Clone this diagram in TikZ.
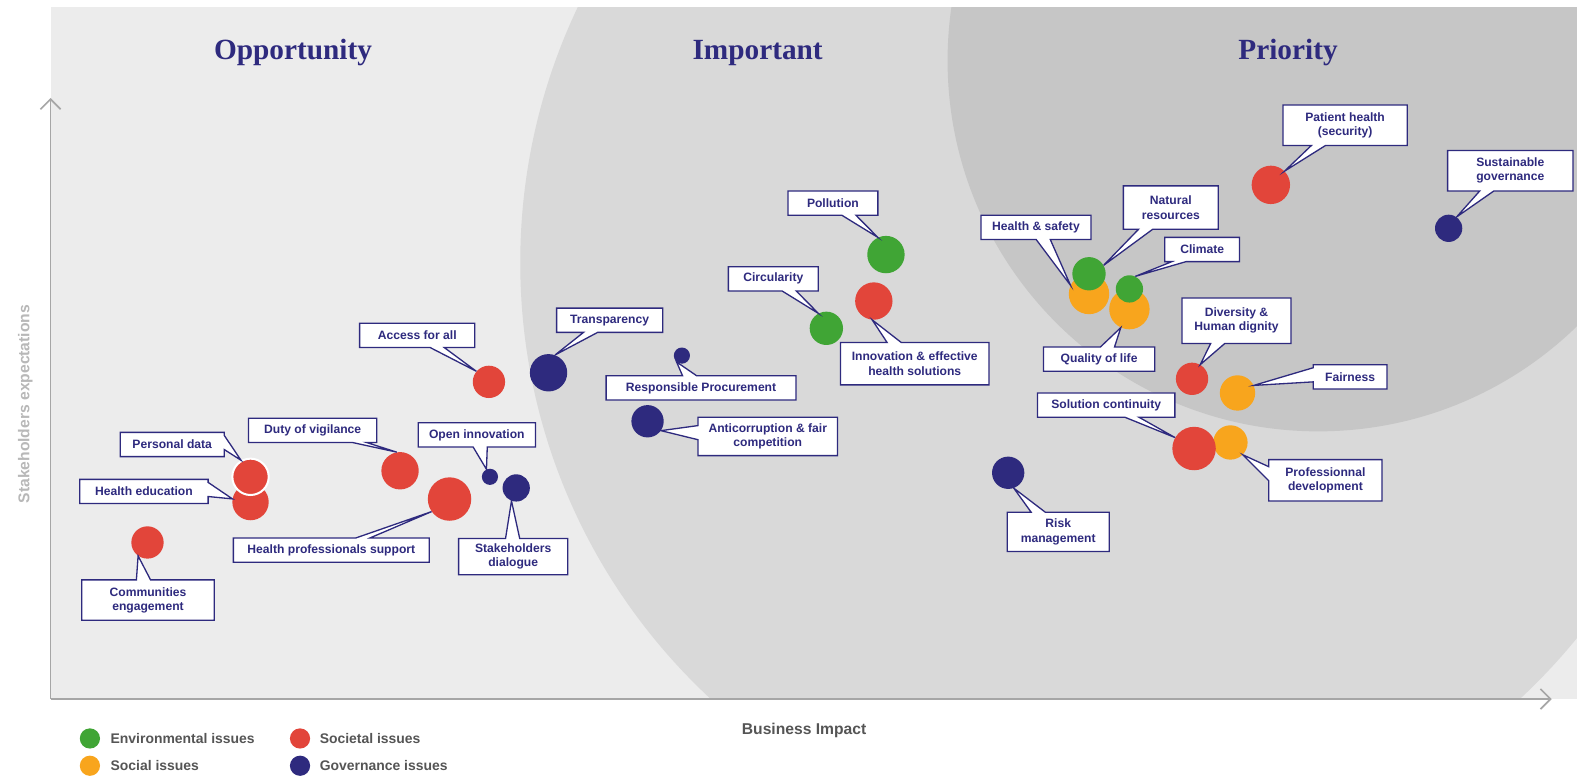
\documentclass[tikz,border=0pt]{standalone}
\usepackage{fontspec}
\setmainfont{Liberation Sans}
\newfontfamily\headfont{Liberation Serif}
\usetikzlibrary{shapes.callouts,arrows.meta}

\definecolor{navy}{HTML}{2E2A7E}
\definecolor{envgreen}{HTML}{40A535}
\definecolor{socred}{HTML}{E2453A}
\definecolor{socorange}{HTML}{F8A51D}
\definecolor{bglight}{HTML}{ECECEC}
\definecolor{bgmid}{HTML}{D9D9D9}
\definecolor{bgdark}{HTML}{C6C6C6}
\definecolor{axisgray}{HTML}{A6A6A6}
\definecolor{legendgray}{HTML}{555555}
\definecolor{ylabelgray}{HTML}{B8B8B8}

\tikzset{
  dot/.style={circle, inner sep=0pt, minimum size=#1},
  dotenv/.style={dot=#1, fill=envgreen},
  dotsoc/.style={dot=#1, fill=socred},
  dotsocial/.style={dot=#1, fill=socorange},
  dotgov/.style={dot=#1, fill=navy},
  callbox/.style={rectangle callout, draw=navy, line width=1.3pt, fill=white,
    text=navy, font=\bfseries\fontsize{12}{14}\selectfont, align=center,
    inner sep=0pt, minimum height=24pt, callout pointer width=14pt},
  zonetitle/.style={text=navy, font=\headfont\bfseries\fontsize{29}{34}\selectfont},
  legendtext/.style={anchor=west, text=legendgray, font=\bfseries\fontsize{13.8}{16}\selectfont},
  axisline/.style={axisgray, line width=1.6pt, -{Straight Barb[length=10pt,width=20pt]}}
}

\begin{document}
\begin{tikzpicture}[x=1pt,y=-1pt]
\useasboundingbox (0,0) rectangle (1568,768);
\fill[white] (0,0) rectangle (1568,768);

% zones
\fill[bglight] (50,7) rectangle (1561,692);
\begin{scope}
\clip (50,7) rectangle (1561,692);
\fill[bgmid] (1104,260) circle[radius=589pt];
\fill[bgdark] (1305,60) circle[radius=367pt];
\end{scope}

\node[zonetitle] (opportunity) at (290,52) {Opportunity};
\node[zonetitle] (important) at (750,52) {Important};
\node[zonetitle] (priority) at (1275,52) {Priority};

% axes
\coordinate (origin) at (50,692);
\coordinate (ytop) at (50,97);
\coordinate (xend) at (1536,692);
\draw[axisline] (origin) -- (ytop);
\draw[axisline] (origin) -- (xend);
\node[text=ylabelgray, rotate=90, font=\bfseries\fontsize{15.5}{18}\selectfont] (ylabel) at (25,400) {Stakeholders expectations};
\node[text=legendgray, font=\bfseries\fontsize{15.5}{18}\selectfont] (xlabel) at (796,723) {Business Impact};

% issues
\node[dotsoc=32pt] (commun) at (146,537) {};
\node[dotsoc=36pt] (healthedu) at (248,497) {};
\node[dotsoc=36pt, draw=white, line width=2pt] (personal) at (248,472) {};
\node[dotsoc=37pt] (duty) at (396,466) {};
\node[dotsoc=43pt] (hprof) at (445,494) {};
\node[dotgov=16pt] (openinno) at (485,472) {};
\node[dotgov=27pt] (stakedial) at (511,483) {};
\node[dotsoc=32pt] (access) at (484,378) {};
\node[dotgov=37pt] (transp) at (543,369) {};
\node[dotgov=16pt] (procure) at (675,352) {};
\node[dotgov=32pt] (anticorr) at (641,417) {};
\node[dotenv=33pt] (circ) at (818,325) {};
\node[dotenv=37pt] (pollution) at (877,252) {};
\node[dotsoc=37pt] (innov) at (865,298) {};
\node[dotsocial=40pt] (hsafety) at (1078,291) {};
\node[dotenv=33pt] (natres) at (1078,271) {};
\node[dotsocial=40pt] (quality) at (1118,306) {};
\node[dotenv=27pt] (climate) at (1118,286) {};
\node[dotsoc=32pt] (diversity) at (1180,375) {};
\node[dotsocial=35pt] (fairness) at (1225,389) {};
\node[dotsocial=34pt] (profdev) at (1218,438) {};
\node[dotsoc=43pt] (solcont) at (1182,444) {};
\node[dotgov=32pt] (risk) at (998,468) {};
\node[dotsoc=38pt] (patient) at (1258,183) {};
\node[dotgov=27pt] (sustgov) at (1434,226) {};

% labels
\node[callbox, minimum width=131pt, minimum height=40pt, callout absolute pointer={(commun.235)}] (communbox) at (146.5,594) {Communities\\engagement};
\node[callbox, minimum width=127pt, callout absolute pointer={(healthedu.170)}] (healtheduBox) at (142.5,486.5) {Health education};
\node[callbox, minimum width=103pt, callout absolute pointer={(personal.120)}] (personalbox) at (170.5,440) {Personal data};
\node[callbox, minimum width=127pt, callout absolute pointer={(duty.100)}] (dutybox) at (309.5,426) {Duty of vigilance};
\node[callbox, minimum width=194pt, callout absolute pointer={(hprof.215)}] (hprofbox) at (328,544.5) {Health professionals support};
\node[callbox, minimum width=116pt, callout absolute pointer={(openinno.115)}] (openinnobox) at (472,430.5) {Open innovation};
\node[callbox, minimum width=108pt, minimum height=36pt, callout absolute pointer={(stakedial.250)}] (stakedialbox) at (508,551) {Stakeholders\\dialogue};
\node[callbox, minimum width=114pt, callout absolute pointer={(access.140)}] (accessbox) at (413,332) {Access for all};
\node[callbox, minimum width=105pt, callout absolute pointer={(transp.70)}] (transpbox) at (603.5,317) {Transparency};
\node[callbox, minimum width=188pt, callout absolute pointer={(procure.230)}] (procurebox) at (694,384) {Responsible Procurement};
\node[callbox, minimum width=138pt, minimum height=38pt, callout absolute pointer={(anticorr.325)}] (anticorrbox) at (760,432) {Anticorruption \& fair\\competition};
\node[callbox, minimum width=89pt, callout absolute pointer={(circ.118)}] (circbox) at (765.5,276) {Circularity};
\node[callbox, minimum width=89pt, callout absolute pointer={(pollution.115)}] (pollutionbox) at (824.5,201) {Pollution};
\node[callbox, minimum width=147pt, minimum height=42pt, callout absolute pointer={(innov.265)}] (innovbox) at (905.5,360) {Innovation \& effective\\health solutions};
\node[callbox, minimum width=109pt, callout absolute pointer={(hsafety.155)}] (hsafetybox) at (1025.5,225) {Health \& safety};
\node[callbox, minimum width=94pt, minimum height=43pt, callout absolute pointer={(natres.30)}] (natresbox) at (1159,205.5) {Natural\\resources};
\node[callbox, minimum width=74pt, callout absolute pointer={(climate.65)}] (climatebox) at (1190,247) {Climate};
\node[callbox, minimum width=110pt, callout absolute pointer={(quality.245)}] (qualitybox) at (1088,355.5) {Quality of life};
\node[callbox, minimum width=108pt, minimum height=45pt, callout absolute pointer={(diversity.60)}] (diversitybox) at (1224,317.5) {Diversity \&\\Human dignity};
\node[callbox, minimum width=73pt, callout absolute pointer={(fairness.25)}] (fairnessbox) at (1336.5,373) {Fairness};
\node[callbox, minimum width=136pt, callout absolute pointer={(solcont.150)}] (solcontbox) at (1095,401) {Solution continuity};
\node[callbox, minimum width=112pt, minimum height=41pt, callout absolute pointer={(profdev.315)}] (profdevbox) at (1312,475.5) {Professionnal\\development};
\node[callbox, minimum width=101pt, minimum height=39pt, callout absolute pointer={(risk.290)}] (riskbox) at (1047.5,526.5) {Risk\\management};
\node[callbox, minimum width=123pt, minimum height=40pt, callout absolute pointer={(patient.45)}] (patientbox) at (1331.5,124) {Patient health\\(security)};
\node[callbox, minimum width=124pt, minimum height=40pt, callout absolute pointer={(sustgov.55)}] (sustgovbox) at (1495,169) {Sustainable\\governance};

% legend
\node[dotenv=20pt] (legenv) at (89,731) {};
\node[legendtext] (legenvtext) at (106,731) {Environmental issues};
\node[dotsoc=20pt] (legsoc) at (297,731) {};
\node[legendtext] (legsoctext) at (313,731) {Societal issues};
\node[dotsocial=20pt] (legsocial) at (89,758) {};
\node[legendtext] (legsocialtext) at (106,758) {Social issues};
\node[dotgov=20pt] (leggov) at (297,758) {};
\node[legendtext] (leggovtext) at (313,758) {Governance issues};
\end{tikzpicture}
\end{document}
